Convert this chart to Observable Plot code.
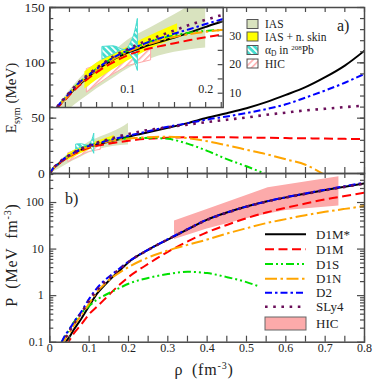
<!DOCTYPE html>
<html><head><meta charset="utf-8">
<script src="https://cdn.jsdelivr.net/npm/d3@7"></script>
<script src="https://cdn.jsdelivr.net/npm/@observablehq/plot@0.6"></script>
<style>
html,body{margin:0;padding:0;background:#fff;}
#chart{position:relative;width:374px;height:380px;overflow:hidden;}
#chart svg{position:absolute;left:0;top:0;}
</style></head><body>
<svg width="0" height="0" style="position:absolute;left:0;top:0">
 <defs>
  <pattern id="hatchCyan" patternUnits="userSpaceOnUse" width="4.5" height="4.5" patternTransform="rotate(-45)">
   <rect width="4.5" height="4.5" fill="#45dccf"/>
   <rect width="1.7" height="4.5" fill="#ffffff"/>
  </pattern>
  <pattern id="hatchPink" patternUnits="userSpaceOnUse" width="4.5" height="4.5" patternTransform="rotate(45)">
   <rect width="4.5" height="4.5" fill="#ffffff"/>
   <rect width="1.5" height="4.5" fill="#ffaaaa"/>
  </pattern>
 </defs>
</svg>
<div id="chart"></div>
<script>
// ---------------- data ----------------
const models = ["D1M*", "D1M", "D1S", "D1N", "D2", "SLy4"];

// symmetry energy E_sym (MeV) vs density (fm^-3)
const rhoE = [0, 0.01, 0.02, 0.035, 0.05, 0.065, 0.08, 0.1, 0.12, 0.14, 0.16, 0.18, 0.2, 0.22, 0.25, 0.3, 0.35, 0.4, 0.45, 0.5, 0.55, 0.6, 0.65, 0.7, 0.75, 0.8];
const esymD1Mstar = [0, 5, 8, 12.3, 15.8, 19, 21.6, 24.2, 26.2, 27.9, 29.5, 31.3, 33.2, 35, 37.3, 41.3, 45.5, 50.3, 54.5, 59, 64.5, 71, 78, 87, 97.5, 111];
const esymD1M = [0, 4.9, 7.8, 12, 15.3, 18.2, 20.6, 23.3, 25.1, 26.4, 27.5, 28.6, 29.6, 30.5, 31.4, 32.3, 32.7, 32.8, 32.7, 32.5, 32.3, 32, 31.8, 31.6, 31.3, 31.1];
const esymD1S = [0, 5.2, 8.4, 13, 16.4, 19.5, 22.2, 24.9, 27.2, 29, 30.3, 31.2, 31.8, 32.1, 32.2, 31.3, 27, 20.5, 13, 6.5, -0.6, null, null, null, null, null];
const esymD1N = [0, 5, 8.1, 12.6, 16, 19.1, 21.7, 24.4, 26.6, 28.3, 29.7, 30.7, 31.5, 32.1, 32.8, 33.3, 32, 29.2, 25.5, 21.5, 17.5, 12.8, 7.9, -1.5, null, null];
const esymD2 = [0, 5.3, 8.4, 13, 16.4, 19.5, 22.2, 25, 27.2, 29.1, 30.9, 32.5, 34.2, 35.8, 38.2, 42.2, 45.4, 48.8, 51.6, 54.6, 58.2, 62.5, 68.6, 75, 82, 90];
const esymSLy4 = [0, 5.4, 8.6, 13.2, 16.7, 19.8, 22.6, 25.4, 27.9, 30, 32, 34, 35.7, 37.3, 39.3, 41.8, 44.1, 46.5, 48.6, 50.6, 53, 55, 57, 58.5, 60, 61.4];

// pressure P (MeV fm^-3) vs density
const rhoP = [0.03, 0.04, 0.05, 0.06, 0.08, 0.1, 0.12, 0.14, 0.16, 0.18, 0.2, 0.25, 0.3, 0.35, 0.4, 0.45, 0.5, 0.55, 0.6, 0.65, 0.7, 0.75, 0.8];
const pD1Mstar = [0.07, 0.1, 0.13, 0.18, 0.32, 0.6, 1.1, 1.7, 2.55, 3.6, 5.2, 9.6, 16, 26.5, 43, 61, 82, 105, 129, 155, 185, 218, 257];
const pD1M = [null, 0.085, 0.11, 0.15, 0.24, 0.4, 0.58, 0.85, 1.25, 1.8, 2.5, 4.8, 8.7, 14.5, 23, 33, 46, 61, 77, 95, 117, 138, 162];
const rhoP_D1S = [0.03, 0.04, 0.05, 0.06, 0.08, 0.1, 0.12, 0.14, 0.16, 0.18, 0.2, 0.25, 0.3, 0.35, 0.4, 0.45, 0.5, 0.53];
const pD1S = [0.1, 0.14, 0.19, 0.26, 0.42, 0.6, 0.82, 1.02, 1.24, 1.5, 1.8, 2.4, 2.9, 3.25, 3.05, 2.5, 1.95, 1.6];
const pD1N = [0.085, 0.12, 0.16, 0.22, 0.38, 0.68, 1.2, 1.8, 2.5, 3.25, 4.1, 6.6, 9.3, 12.3, 16, 21.5, 28, 36, 44, 53.5, 63, 73, 84];
const pD2 = [0.1, 0.145, 0.19, 0.26, 0.45, 0.85, 1.45, 2.15, 2.95, 4.0, 5.4, 9.7, 16.3, 26.8, 43, 61, 82, 105, 130, 157, 188, 224, 268];
const pSLy4 = [0.09, 0.125, 0.17, 0.24, 0.42, 0.78, 1.3, 1.95, 2.8, 3.85, 5.3, 9.6, 16.2, 26.5, 42.5, 60, 81, 104, 128, 154, 184, 217, 255];

// constraint bands on E_sym
const iasRho = [0.005, 0.02, 0.04, 0.06, 0.08, 0.1, 0.12, 0.14, 0.16, 0.18, 0.2];
const iasLow = [1.5, 3.5, 7.5, 11.5, 15, 18.5, 21, 23, 24.3, 25.2, 25.8];
const iasHigh = [3, 9, 15.5, 20.5, 24, 28.5, 31.6, 34.5, 37.5, 40.8, 45.5];
const skinRho = [0.045, 0.06, 0.08, 0.1, 0.12, 0.14, 0.164];
const skinLow = [11.5, 14.5, 18, 21.3, 24.2, 26.8, 29.4];
const skinHigh = [17.5, 20.5, 23.5, 26.2, 29, 31.5, 34.3];
const alphaRho = [0.068, 0.082, 0.096, 0.104, 0.109, 0.113];
const alphaLow = [21.8, 23.6, 25.1, 23.3, 21, 17.8];
const alphaHigh = [26.2, 26.4, 25.1, 27.5, 31, 36];
const hicERho = [0.048, 0.075, 0.1, 0.13];
const hicELow = [10.3, 15.5, 19.5, 21.5];
const hicEHigh = [18.5, 21, 23.5, 26.5];
// HIC band on pressure
const hicPRho = [0.317, 0.4, 0.5, 0.555, 0.6, 0.735];
const hicPLow = [16, 27, 45, 57, 67, 84];
const hicPHigh = [40, 71, 142, 207, 238, 359];

// tick labels
const xTicks = [0, 0.1, 0.2, 0.3, 0.4, 0.5, 0.6, 0.7, 0.8];
const xTickLabels = ["0", "0.1", "0.2", "0.3", "0.4", "0.5", "0.6", "0.7", "0.8"];
const eTicks = [0, 50, 100, 150];
const eTickLabels = ["0", "50", "100", "150"];
const pTicks = [0.1, 1, 10, 100];
const pTickLabels = ["0.1", "1", "10", "100"];
const insetXTicks = [0.1, 0.2];
const insetXTickLabels = ["0.1", "0.2"];
const insetYTicks = [10, 20, 30];
const insetYTickLabels = ["10", "20", "30"];
const topLegend = ["IAS", "IAS + n. skin", "αD in 208Pb", "HIC"];

// ---------------- styles ----------------
const F = "'Liberation Serif','DejaVu Serif',serif";
const AX = "#4a4a4a";
const styles = {
  "D1M*": {stroke: "#000000", dash: null, w: 2},
  "D1M": {stroke: "#ff0000", dash: "9,4.5", w: 2},
  "D1S": {stroke: "#00e000", dash: "8,3,2,3,2,3", w: 2},
  "D1N": {stroke: "#ffa500", dash: "12,3.5,2.5,3.5", w: 2},
  "D2": {stroke: "#0000ff", dash: "7,3,2.5,3", w: 2},
  "SLy4": {stroke: "#6b0f5a", dash: "2.6,5.6", w: 2.6}
};
const esymSeries = {"D1M*": esymD1Mstar, "D1M": esymD1M, "D1S": esymD1S, "D1N": esymD1N, "D2": esymD2, "SLy4": esymSLy4};
const pSeries = {"D1M*": [rhoP, pD1Mstar], "D1M": [rhoP, pD1M], "D1S": [rhoP_D1S, pD1S], "D1N": [rhoP, pD1N], "D2": [rhoP, pD2], "SLy4": [rhoP, pSLy4]};

const W = 374, H = 380;
const L = 49.3, R = 364;
const topT = 7, topB = 173, botT = 173, botB = 341.7;
const inR = 222.7, inB = 107;

const band = (rho, lo, hi) => rho.map((r, i) => ({r, lo: lo[i], hi: hi[i]}));
const pts = (rho, v) => rho.map((r, i) => ({r, v: v[i]}));

function curveMarks(kind) {
  return models.map(m => {
    const s = styles[m];
    const data = kind === "E" ? pts(rhoE, esymSeries[m]) : pts(pSeries[m][0], pSeries[m][1]);
    return Plot.line(data, {x: "r", y: "v", stroke: s.stroke, strokeWidth: s.w,
      strokeDasharray: s.dash, strokeLinecap: "butt", strokeLinejoin: "round",
      curve: "monotone-x", clip: true});
  });
}
function bandMarks() {
  return [
    Plot.areaY(band(iasRho, iasLow, iasHigh), {x: "r", y1: "lo", y2: "hi", fill: "#d9e3bf", curve: "monotone-x", clip: true}),
    Plot.areaY(band(hicERho, hicELow, hicEHigh), {x: "r", y1: "lo", y2: "hi", fill: "url(#hatchPink)", stroke: "#ffaaaa", strokeWidth: 1, clip: true}),
    Plot.areaY(band(skinRho, skinLow, skinHigh), {x: "r", y1: "lo", y2: "hi", fill: "#ffff00", clip: true}),
    Plot.areaY(band(alphaRho, alphaLow, alphaHigh), {x: "r", y1: "lo", y2: "hi", fill: "url(#hatchCyan)", stroke: "#45dccf", strokeWidth: 1, curve: "monotone-x", clip: true})
  ];
}
function ticksX(values, len, side, fh) {
  return Plot.ruleX(values, {x: d => d, stroke: AX, strokeWidth: 1.2,
    ...(side === "bottom" ? {insetTop: fh - len} : {insetBottom: fh - len})});
}
function ticksY(values, len, side, fw) {
  return Plot.ruleY(values, {y: d => d, stroke: AX, strokeWidth: 1.2,
    ...(side === "left" ? {insetRight: fw - len} : {insetLeft: fw - len})});
}
const baseStyle = {background: "transparent", overflow: "visible", fontFamily: F};
const chart = document.getElementById("chart");

const x05 = d3.range(0, 0.8001, 0.05).map(v => +v.toFixed(2));
const fwMain = R - L;

// ---- top panel: content ----
const topContent = Plot.plot({
  width: W, height: H, marginLeft: L, marginRight: W - R, marginTop: topT, marginBottom: H - topB,
  x: {domain: [0, 0.8], axis: null}, y: {domain: [0, 150], axis: null},
  style: baseStyle,
  marks: [...bandMarks(), ...curveMarks("E")]
});
chart.appendChild(topContent);

// ---- inset ----
const inFH = inB - topT, inFW = inR - L;
const inset = Plot.plot({
  width: W, height: H, marginLeft: L, marginRight: W - inR, marginTop: topT, marginBottom: H - inB,
  x: {domain: [0, 0.2225], axis: null}, y: {domain: [5, 40], axis: null},
  style: baseStyle,
  marks: [
    Plot.frame({fill: "white"}),
    ...bandMarks(),
    ...curveMarks("E"),
    ticksX(d3.range(0.02, 0.221, 0.02).map(v => +v.toFixed(2)), 5, "bottom", inFH),
    ticksY(d3.range(10, 40, 5), 5, "right", inFW),
    Plot.text(insetXTicks, {x: d => d, text: (d, i) => insetXTickLabels[i], frameAnchor: "bottom", dy: -15, fontSize: 12, fill: "#222"}),
    Plot.text(insetYTicks, {y: d => d, text: (d, i) => insetYTickLabels[i], frameAnchor: "right", dx: 6, textAnchor: "start", fontSize: 12, fill: "#222"}),
    Plot.frame({stroke: AX, strokeWidth: 1.5})
  ]
});
chart.appendChild(inset);

// ---- top panel: axes ----
const topFH = topB - topT;
const topAxes = Plot.plot({
  width: W, height: H, marginLeft: L, marginRight: W - R, marginTop: topT, marginBottom: H - topB,
  x: {domain: [0, 0.8], axis: null}, y: {domain: [0, 150], axis: null},
  style: baseStyle,
  marks: [
    ticksX(x05, 6, "bottom", topFH),
    ticksX(x05, 5, "top", topFH),
    ticksY(d3.range(0, 151, 10), 4, "left", fwMain),
    ticksY(eTicks, 7, "left", fwMain),
    ticksY(d3.range(0, 151, 10), 4, "right", fwMain),
    ticksY(eTicks, 7, "right", fwMain),
    Plot.text(eTicks, {y: d => d, text: (d, i) => eTickLabels[i], frameAnchor: "left", dx: -5, textAnchor: "end", fontSize: 13.5, fill: "#222"}),
    Plot.frame({stroke: AX, strokeWidth: 1.5})
  ]
});
chart.appendChild(topAxes);

// ---- bottom panel ----
const botFH = botB - botT;
const pMinor = [];
[0.1, 1, 10, 100].forEach(dec => { for (let k = 2; k <= 9; k++) if (dec * k <= 420) pMinor.push(+(dec * k).toPrecision(2)); });
const bottom = Plot.plot({
  width: W, height: H, marginLeft: L, marginRight: W - R, marginTop: botT, marginBottom: H - botB,
  x: {domain: [0, 0.8], axis: null}, y: {type: "log", domain: [0.1, 420], axis: null},
  style: baseStyle,
  marks: [
    Plot.areaY(band(hicPRho, hicPLow, hicPHigh), {x: "r", y1: "lo", y2: "hi", fill: "#fcaaaa", clip: true}),
    ...curveMarks("P"),
    ticksX(x05, 6, "bottom", botFH),
    ticksX(x05, 5, "top", botFH),
    ticksY(pMinor, 4, "left", fwMain),
    ticksY(pTicks, 7, "left", fwMain),
    ticksY(pMinor, 4, "right", fwMain),
    ticksY(pTicks, 7, "right", fwMain),
    Plot.text(pTicks, {y: d => d, text: (d, i) => pTickLabels[i], frameAnchor: "left", dx: -6, textAnchor: "end", fontSize: 12, fill: "#222"}),
    Plot.text(xTicks, {x: d => d, text: (d, i) => xTickLabels[i], frameAnchor: "bottom", dy: 10, fontSize: 12, fill: "#222"}),
    Plot.frame({stroke: AX, strokeWidth: 1.5})
  ]
});
chart.appendChild(bottom);

// ---- overlay: titles, legends ----
const ov = d3.select(chart).append("svg").attr("width", W).attr("height", H)
  .style("font-family", F).attr("fill", "#222");

// E_sym (MeV)
const te = ov.append("text").attr("transform", "translate(16,98) rotate(-90)").attr("text-anchor", "middle").attr("font-size", 15);
te.append("tspan").text("E");
te.append("tspan").attr("font-size", 10).attr("dy", 4).text("sym");
te.append("tspan").attr("dy", -4).text(" (MeV)");
// P (MeV fm^-3)
const tp = ov.append("text").attr("transform", "translate(17,255) rotate(-90)").attr("text-anchor", "middle")
  .attr("font-size", 16).attr("letter-spacing", 0.8).attr("word-spacing", 4);
tp.append("tspan").text("P (MeV fm");
tp.append("tspan").attr("font-size", 10).attr("dy", -6).text("-3");
tp.append("tspan").attr("dy", 6).text(")");
// rho (fm^-3)
const tr = ov.append("text").attr("x", 204).attr("y", 375).attr("text-anchor", "middle")
  .attr("font-size", 16).attr("letter-spacing", 0.8).attr("word-spacing", 4);
tr.append("tspan").text("ρ (fm");
tr.append("tspan").attr("font-size", 10).attr("dy", -6).text("-3");
tr.append("tspan").attr("dy", 6).text(")");

ov.append("text").attr("x", 337).attr("y", 31).attr("font-size", 16).text("a)");
ov.append("text").attr("x", 65).attr("y", 204).attr("font-size", 16).text("b)");

// top legend
const tlFills = ["#d9e3bf", "#ffff00", "url(#hatchCyan)", "url(#hatchPink)"];
const tlY = [24, 36.5, 50, 63.5];
topLegend.forEach((lab, i) => {
  ov.append("rect").attr("x", 247).attr("y", tlY[i] - 4.5).attr("width", 11).attr("height", 9)
    .attr("fill", tlFills[i]).attr("stroke", "#555").attr("stroke-width", 1);
  const t = ov.append("text").attr("x", 265).attr("y", tlY[i] + 4).attr("font-size", 11.5);
  if (i === 2) {
    t.append("tspan").text("α");
    t.append("tspan").attr("font-size", 7.5).attr("dy", 2).text("D");
    t.append("tspan").attr("dy", -2).text(" in ");
    t.append("tspan").attr("font-size", 7).attr("dy", -4.5).text("208");
    t.append("tspan").attr("dy", 4.5).text("Pb");
  } else t.text(lab);
});

// bottom legend
const blY = [234.3, 249.3, 264, 278.7, 292.7, 306.7];
models.forEach((m, i) => {
  const s = styles[m];
  ov.append("line").attr("x1", 265).attr("x2", 306).attr("y1", blY[i]).attr("y2", blY[i])
    .attr("stroke", s.stroke).attr("stroke-width", s.w).attr("stroke-dasharray", s.dash);
  ov.append("text").attr("x", 316).attr("y", blY[i] + 4.5).attr("font-size", 13).text(m);
});
ov.append("rect").attr("x", 265).attr("y", 317).attr("width", 41).attr("height", 13)
  .attr("fill", "#fcaaaa").attr("stroke", "#666").attr("stroke-width", 1);
ov.append("text").attr("x", 316).attr("y", 328).attr("font-size", 13).text("HIC");
</script></body></html>
